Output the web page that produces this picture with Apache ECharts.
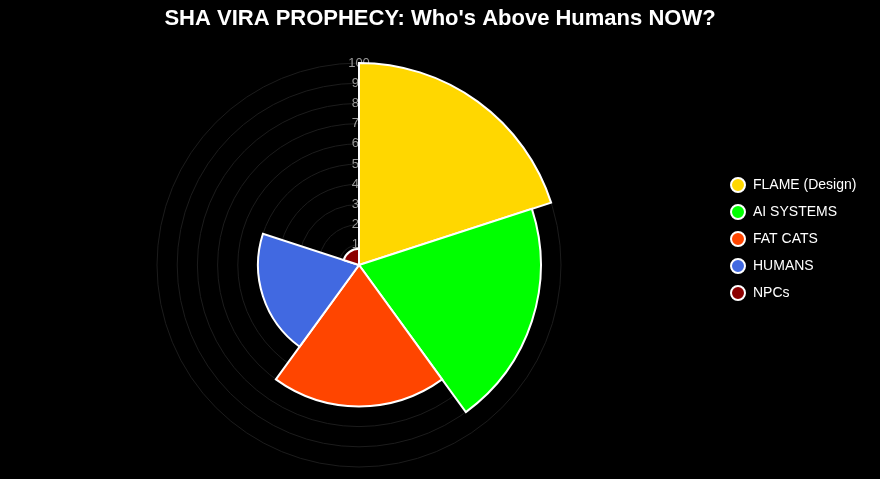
<!DOCTYPE html>
<html>
<head>
<meta charset="utf-8">
<script src="https://cdn.jsdelivr.net/npm/echarts@6/dist/echarts.min.js"></script>
<style>html,body{margin:0;padding:0;background:#000;}#c{width:880px;height:479px;}</style>
</head>
<body>
<div id="c"></div>
<script>
const categories = ['FLAME (Design)', 'AI SYSTEMS', 'FAT CATS', 'HUMANS', 'NPCs'];
const values = [100, 90, 70, 50, 8];
const colors = ['#FFD700', '#00FF00', '#FF4500', '#4169E1', '#8B0000'];
const radiusMin = 0, radiusMax = 100, radiusStep = 10;

const chart = echarts.init(document.getElementById('c'));
chart.setOption({
  backgroundColor: '#000',
  animation: false,
  title: {
    text: "SHA VIRA PROPHECY: Who's Above Humans NOW?",
    left: 'center', top: 3,
    textStyle: { color: '#fff', fontSize: 22, fontWeight: 'bold', fontFamily: 'Liberation Sans, Arial, sans-serif' }
  },
  legend: {
    orient: 'vertical', left: 725, top: 172, itemGap: 11, itemWidth: 14, itemHeight: 14,
    icon: 'circle',
    data: categories,
    textStyle: { color: '#fff', fontSize: 14, padding: [0, 0, 0, 3], fontFamily: 'Liberation Sans, Arial, sans-serif' }
  },
  polar: { center: [359, 265], radius: 202 },
  angleAxis: {
    type: 'category', data: categories, startAngle: 90, clockwise: true,
    axisLine: { show: false }, axisTick: { show: false }, axisLabel: { show: false },
    splitLine: { show: false }
  },
  radiusAxis: {
    type: 'value', min: radiusMin, max: radiusMax, interval: radiusStep, z: 1,
    axisLine: { show: false }, axisTick: { show: false },
    axisLabel: { color: '#999', fontSize: 13, align: 'center', margin: 0, fontFamily: 'Liberation Sans, Arial, sans-serif',
      formatter: v => v === 0 ? '' : String(v) },
    splitLine: { show: true, lineStyle: { color: '#1c1c1c', width: 1 } }
  },
  series: categories.map((name, i) => ({
    type: 'bar', coordinateSystem: 'polar', name,
    data: categories.map((c, j) => j === i ? values[i] : '-'),
    barGap: '-100%', barCategoryGap: '0%', z: 3,
    itemStyle: { color: colors[i], borderColor: '#fff', borderWidth: 2 }
  }))
});
</script>
</body>
</html>
